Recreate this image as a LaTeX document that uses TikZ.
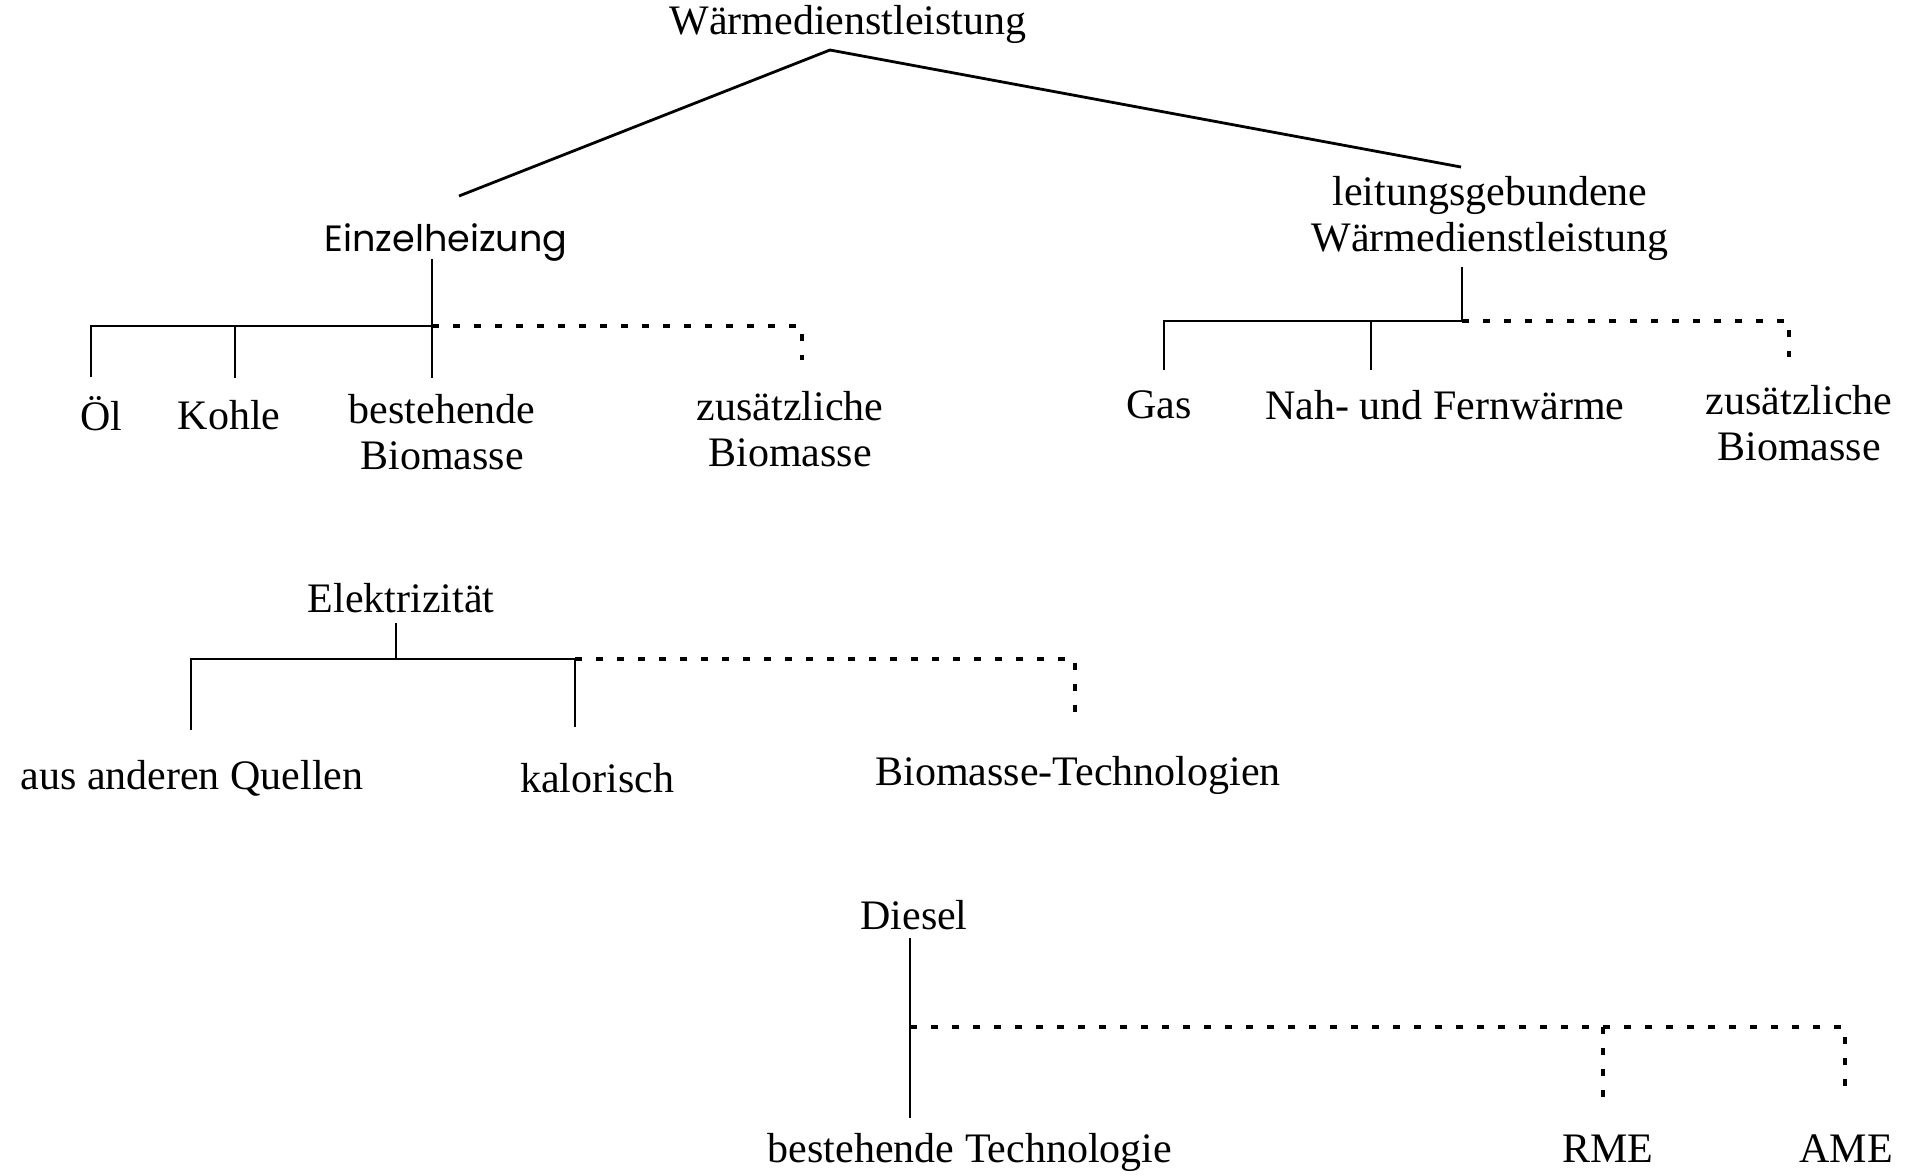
\documentclass[tikz,border=0pt]{standalone}
\usepackage{fontspec}
\setmainfont{Liberation Serif}
\newfontfamily\geofont{Poppins}
\begin{document}
\begin{tikzpicture}[x=0.5pt,y=-0.5pt,
    lbl/.style={font=\fontsize{21}{23}\selectfont, inner sep=0pt, align=center},
    sanslbl/.style={font=\geofont\fontsize{18.3}{21}\selectfont, inner sep=0pt},
    branch/.style={line width=1.4pt},
    optional/.style={line width=1.6pt, dash pattern=on 3.5pt off 7pt}]
    \useasboundingbox (0,0) rectangle (1917,1175);
    % Waermedienstleistung
    \node[lbl] (waerme) at (848,24) {Wärmedienstleistung};
    \coordinate (apex) at (830,50);
    \coordinate (einzTop) at (459,196);
    \coordinate (leitTop) at (1461,167);
    \draw[branch] (einzTop) -- (apex) -- (leitTop);
    % Einzelheizung
    \node[sanslbl] (einzel) at (446,243) {Einzelheizung};
    \coordinate (einzS) at (432,259);
    \coordinate (einzJ) at (432,326);
    \coordinate (oelT) at (91,377);
    \coordinate (kohleT) at (235,378);
    \coordinate (bestT) at (432,378);
    \coordinate (zusT) at (802,360);
    \draw[branch] (oelT) |- (einzJ);
    \draw[branch] (kohleT) -- (kohleT |- einzJ);
    \draw[branch] (einzS) -- (bestT);
    \draw[optional] (einzJ) -| (zusT);
    \node[lbl] (oel) at (101,414) {Öl};
    \node[lbl] (kohle) at (229,415) {Kohle};
    \node[lbl] (bestBio) at (442,432) {bestehende\\Biomasse};
    \node[lbl] (zusBio) at (790,429) {zusätzliche\\Biomasse};
    % leitungsgebunden
    \node[lbl] (leitung) at (1490,218) {leitungsgebundene\\Wärmedienstleistung};
    \coordinate (leitS) at (1462,267);
    \coordinate (leitJ) at (1462,321);
    \coordinate (gasT) at (1164,370);
    \coordinate (nahT) at (1371,370);
    \coordinate (zusT2) at (1789,357);
    \draw[branch] (gasT) |- (leitJ) -- (leitS);
    \draw[branch] (nahT) -- (nahT |- leitJ);
    \draw[optional] (leitJ) -| (zusT2);
    \node[lbl] (gas) at (1159,405) {Gas};
    \node[lbl] (nahfern) at (1445,405) {Nah- und Fernwärme};
    \node[lbl] (zusBio2) at (1799,423) {zusätzliche\\Biomasse};
    % Elektrizitaet
    \node[lbl] (elek) at (401,598) {Elektrizität};
    \coordinate (elekS) at (396,623);
    \coordinate (elekJ) at (396,659);
    \coordinate (quellT) at (191,730);
    \coordinate (kalorT) at (575,727);
    \coordinate (techT) at (1075,712);
    \draw[branch] (elekS) -- (elekJ);
    \draw[branch] (quellT) |- (kalorT |- elekJ) -- (kalorT);
    \draw[optional] (kalorT |- elekJ) -| (techT);
    \node[lbl] (quellen) at (192,778) {aus anderen Quellen};
    \node[lbl] (kalor) at (597,778) {kalorisch};
    \node[lbl] (biotech) at (1078,775) {Biomasse-Technologien};
    % Diesel
    \node[lbl] (diesel) at (914,915) {Diesel};
    \coordinate (dieselS) at (910,938);
    \coordinate (dieselJ) at (910,1027);
    \coordinate (techT2) at (910,1118);
    \coordinate (rmeT) at (1603,1103);
    \coordinate (ameT) at (1845,1098);
    \draw[branch] (dieselS) -- (techT2);
    \draw[optional] (dieselJ) -| (ameT);
    \draw[optional] (rmeT |- dieselJ) -- (rmeT);
    \node[lbl] (bestTech) at (970,1152) {bestehende Technologie};
    \node[lbl] (rme) at (1608,1149) {RME};
    \node[lbl] (ame) at (1846,1149) {AME};
\end{tikzpicture}
\end{document}
